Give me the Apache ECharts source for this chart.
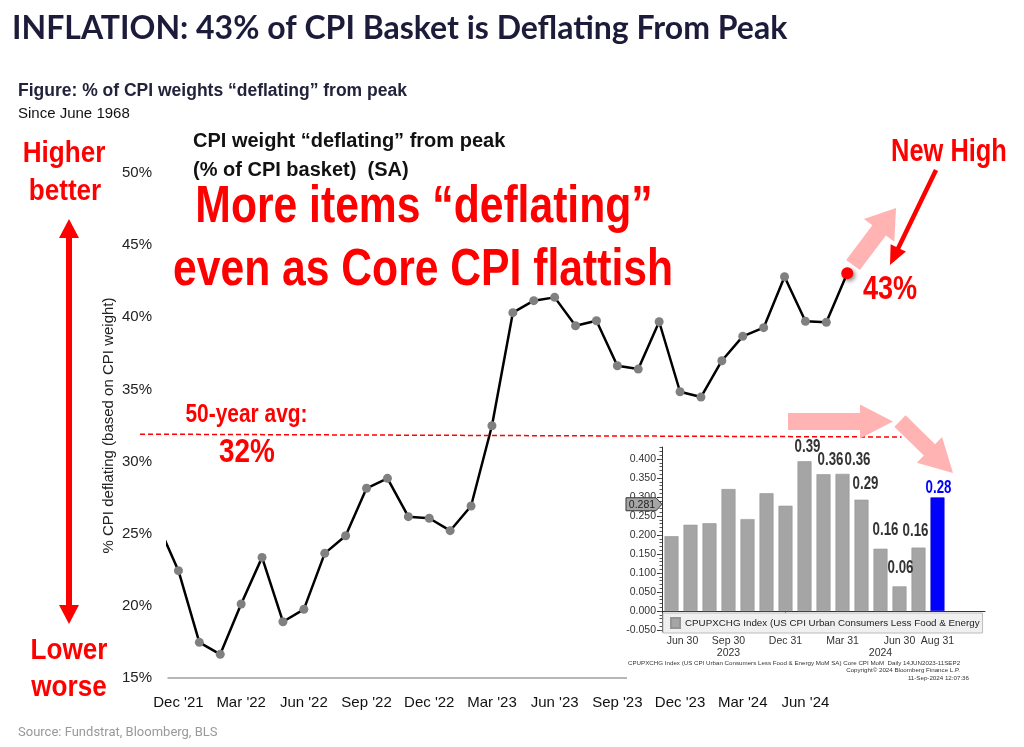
<!DOCTYPE html>
<html><head><meta charset="utf-8">
<script src="https://cdn.jsdelivr.net/npm/echarts@6/dist/echarts.min.js"></script>
<style>html,body{margin:0;padding:0;background:#fff}#c{width:1024px;height:747px}</style>
</head><body><div id="c"></div>
<script>
// ---------- main chart data ----------
const months = ["Nov '21","Dec '21","Jan '22","Feb '22","Mar '22","Apr '22","May '22","Jun '22","Jul '22","Aug '22","Sep '22","Oct '22","Nov '22","Dec '22",
  "Jan '23","Feb '23","Mar '23","Apr '23","May '23","Jun '23","Jul '23","Aug '23","Sep '23","Oct '23","Nov '23","Dec '23",
  "Jan '24","Feb '24","Mar '24","Apr '24","May '24","Jun '24","Jul '24","Aug '24"];
const deflatingShare = [25.7,22.44,17.47,16.64,20.13,23.36,18.90,19.76,23.64,24.86,28.15,28.84,26.18,26.07,
  25.21,26.92,32.48,40.32,41.15,41.38,39.41,39.76,36.64,36.41,39.69,34.84,
  34.47,36.99,38.68,39.28,42.81,39.72,39.65,43.05];
const xTickLabels = ["Dec '21","Mar '22","Jun '22","Sep '22","Dec '22","Mar '23","Jun '23","Sep '23","Dec '23","Mar '24","Jun '24"];
const avgLineX = [-1.84, 34.6];
const avgLineY = [31.9, 31.7];

// ---------- inset (Bloomberg core CPI MoM) ----------
const insetMonths = ['Jun 23','Jul 23','Aug 23','Sep 23','Oct 23','Nov 23','Dec 23','Jan 24','Feb 24','Mar 24','Apr 24','May 24','Jun 24','Jul 24','Aug 24','Sep 24','Oct 24'];
const insetValues = [0.197,0.227,0.231,0.321,0.242,0.310,0.277,0.394,0.360,0.361,0.293,0.164,0.065,0.167,0.299];
const insetBarLabels = ['','','','','','','','0.39','0.36','0.36','0.29','0.16','0.06','0.16','0.28'];
const insetTickLabels = ['Jun 30','','','Sep 30','','','Dec 31','','','Mar 31','','','Jun 30','','Aug 31','',''];
const insetYearLabels = ['','','','2023','','','','','','','','2024','','','','',''];
const insetYTicks = [-0.05,0,0.05,0.1,0.15,0.2,0.25,0.3,0.35,0.4];
const insetLast = 0.281;
const insetName = 'CPUPXCHG Index (US CPI Urban Consumers Less Food & Energy MoM SA)';

const ARIAL = '"Liberation Sans", Arial, sans-serif';
const BBG = '"Liberation Sans", sans-serif';
const RED = '#ff0000';
const PINK = '#ffb3b3';
const NARROW_X = 0.82;

const mainData = deflatingShare.map((v, i) => {
  const x = i - 1;
  if (i === deflatingShare.length - 1) {
    return { value: [x, v], symbolSize: 12, itemStyle: { color: RED, shadowBlur: 4, shadowColor: 'rgba(0,0,0,0.45)', shadowOffsetX: 2, shadowOffsetY: 2 } };
  }
  return [x, v];
});
const xTickValues = xTickLabels.map(l => months.indexOf(l) - 1);

const minorTicks = [];
for (let k = -5; k <= 43; k++) minorTicks.push(+(k / 100).toFixed(2));

const insetData = insetValues.map((v, i) => {
  if (i === insetValues.length - 1) return { value: v, itemStyle: { color: '#0000ff', borderColor: '#0000cc' } };
  return v;
});
const insetLabelData = [];
insetBarLabels.forEach((t, i) => { if (t) insetLabelData.push([i, insetValues[i]]); });
// label placement tweaks (style only): [dx, gap above bar]
const labelPlace = {7:[3,8], 8:[7,8.3], 9:[15,7.7], 10:[4,9.7], 11:[5,12], 12:[1,12], 13:[-3,10.6], 14:[1,3]};
const yearBoundary = insetMonths.indexOf('Dec 23');

function arrow(x1, y1, x2, y2, sw, hw, hl) {
  const dx = x2 - x1, dy = y2 - y1, L = Math.hypot(dx, dy), ux = dx / L, uy = dy / L, px = -uy, py = ux;
  const bx = x2 - ux * hl, by = y2 - uy * hl;
  return [[x1 + px * sw / 2, y1 + py * sw / 2], [bx + px * sw / 2, by + py * sw / 2], [bx + px * hw / 2, by + py * hw / 2], [x2, y2],
          [bx - px * hw / 2, by - py * hw / 2], [bx - px * sw / 2, by - py * sw / 2], [x1 - px * sw / 2, y1 - py * sw / 2]];
}
function dblArrowV(x, y1, y2, sw, hw, hl) {
  return [[x, y1], [x + hw / 2, y1 + hl], [x + sw / 2, y1 + hl], [x + sw / 2, y2 - hl], [x + hw / 2, y2 - hl], [x, y2],
          [x - hw / 2, y2 - hl], [x - sw / 2, y2 - hl], [x - sw / 2, y1 + hl], [x - hw / 2, y1 + hl]];
}
function txt(text, x, y, size, opts) {
  opts = opts || {};
  const st = { text, fontSize: size, fontFamily: opts.family || ARIAL, fontWeight: opts.weight || 'bold', fill: opts.color || RED,
    align: opts.align || 'center', textAlign: opts.align || 'center', verticalAlign: 'middle', textVerticalAlign: 'middle' };
  const el = { type: 'text', x, y, z: 20, style: st };
  if (opts.sx) el.scaleX = opts.sx;
  return el;
}

const chart = echarts.init(document.getElementById('c'), null, { renderer: 'canvas' });
chart.setOption({
  backgroundColor: '#fff',
  animation: false,
  grid: [
    { left: 168, top: 173, width: 710.6, height: 505 },
    { left: 662, top: 447, width: 323, height: 185 }
  ],
  legend: {
    data: [insetName], left: 663, top: 613, icon: 'rect', itemWidth: 9, itemHeight: 10, itemGap: 0,
    padding: [4, 3, 4, 7], backgroundColor: '#f0f0f0', borderColor: '#bcbcbc', borderWidth: 1, selectedMode: false, z: 13,
    textStyle: { fontFamily: BBG, fontSize: 9.8, color: '#222', width: 298, overflow: 'truncate', ellipsis: '' }
  },
  xAxis: [
    { gridIndex: 0, type: 'value', min: -0.5, max: 33.5,
      axisLine: { show: true, lineStyle: { color: '#a0a0a0', width: 1.5 } }, axisTick: { show: false }, splitLine: { show: false },
      axisLabel: { customValues: xTickValues, formatter: v => xTickLabels[xTickValues.indexOf(v)] || '', fontFamily: ARIAL, fontSize: 15, color: '#111', margin: 17 } },
    { gridIndex: 1, type: 'category', data: insetMonths, z: 12,
      axisLine: { lineStyle: { color: '#333', width: 1 } }, axisTick: { show: false },
      axisLabel: { interval: 0, margin: 4, fontFamily: BBG, fontSize: 10.5, color: '#333',
        formatter: (v, i) => i === 0 ? '{a|' + insetTickLabels[i] + '}' : insetTickLabels[i],
        rich: { a: { padding: [0, 0, 0, 22], fontFamily: BBG, fontSize: 10.5, color: '#333' } } } },
    { gridIndex: 1, type: 'category', data: insetMonths, position: 'bottom', offset: 14, z: 12,
      axisLine: { show: false },
      axisTick: { show: true, alignWithLabel: true, length: 10, interval: i => i === yearBoundary, lineStyle: { color: '#444' } },
      axisLabel: { interval: 0, margin: 2, fontFamily: BBG, fontSize: 10.5, color: '#333', formatter: (v, i) => insetYearLabels[i] } }
  ],
  yAxis: [
    { gridIndex: 0, type: 'value', min: 15, max: 50, interval: 5,
      axisLine: { show: false }, axisTick: { show: false }, splitLine: { show: false },
      axisLabel: { formatter: v => v + '%', fontFamily: ARIAL, fontSize: 15, color: '#222', margin: 16 },
      name: '% CPI deflating (based on CPI weight)', nameLocation: 'middle', nameRotate: 90, nameGap: 52, nameMoveOverlap: false,
      nameTextStyle: { fontFamily: ARIAL, fontSize: 15, color: '#222' } },
    { gridIndex: 1, type: 'value', min: -0.055, max: 0.4316, z: 12, position: 'left',
      axisLine: { show: true, lineStyle: { color: '#333', width: 1 } },
      axisTick: { show: true, customValues: insetYTicks, length: 5, lineStyle: { color: '#333' } },
      splitLine: { show: false },
      axisLabel: { customValues: insetYTicks, formatter: v => v.toFixed(3), fontFamily: BBG, fontSize: 10.5, color: '#333', margin: 6 } },
    { gridIndex: 1, type: 'value', min: -0.055, max: 0.4316, z: 12, position: 'left', offset: 0,
      axisLine: { show: false }, splitLine: { show: false }, axisLabel: { show: false },
      axisTick: { show: true, customValues: minorTicks, length: 2.5, lineStyle: { color: '#555' } } }
  ],
  series: [
    { name: 'CPI weight deflating', type: 'line', xAxisIndex: 0, yAxisIndex: 0, data: mainData, z: 3, clip: true,
      symbol: 'circle', symbolSize: 9, showAllSymbol: true,
      lineStyle: { color: '#000', width: 2.5 }, itemStyle: { color: '#808080' } },
    { name: '50-year avg', type: 'custom', xAxisIndex: 0, yAxisIndex: 0, clip: false, z: 4,
      data: [[avgLineX[0], avgLineY[0], avgLineX[1], avgLineY[1]]],
      renderItem: (params, api) => {
        const a = api.coord([api.value(0), api.value(1)]);
        const b = api.coord([api.value(2), api.value(3)]);
        return { type: 'line', shape: { x1: a[0], y1: a[1], x2: b[0], y2: b[1] }, style: { stroke: RED, lineWidth: 1.5, lineDash: [5, 3] } };
      } },
    { name: insetName, type: 'bar', xAxisIndex: 1, yAxisIndex: 1, data: insetData, z: 12, barWidth: 14,
      itemStyle: { color: '#a5a5a5', borderColor: '#959595', borderWidth: 0.6 } },
    { name: 'last price', type: 'custom', xAxisIndex: 1, yAxisIndex: 1, z: 14, clip: false, data: [[0, insetLast]],
      renderItem: (params, api) => {
        const p = api.coord([0, api.value(1)]);
        const x0 = params.coordSys.x, y = p[1];
        return { type: 'group', children: [
          { type: 'polygon', shape: { points: [[x0 - 36, y - 6.5], [x0 - 6, y - 6.5], [x0, y], [x0 - 6, y + 6.5], [x0 - 36, y + 6.5]] },
            style: { fill: '#a6a6a6', stroke: '#333', lineWidth: 1 } },
          { type: 'text', x: x0 - 20, y: y + 0.5, style: { text: api.value(1).toFixed(3), fontFamily: BBG, fontSize: 10.5, fill: '#222', align: 'center', verticalAlign: 'middle' } }
        ] };
      } },
    { name: 'bar labels', type: 'custom', xAxisIndex: 1, yAxisIndex: 1, z: 14, clip: false, data: insetLabelData,
      renderItem: (params, api) => {
        const i = api.value(0);
        const p = api.coord([i, api.value(1)]);
        const pl = labelPlace[i] || [0, 6];
        return { type: 'text', x: p[0] + pl[0], y: p[1] - pl[1] - 6.2, scaleX: 0.76,
          style: { text: insetBarLabels[i], fontFamily: ARIAL, fontWeight: 'bold', fontSize: 17.5,
            fill: i === insetValues.length - 1 ? '#0000ff' : '#333', align: 'center', verticalAlign: 'middle' } };
      } }
  ],
  graphic: [
    { type: 'rect', z: 10, shape: { x: 627, y: 441, width: 373, height: 250 }, style: { fill: '#fff' } },
    txt('INFLATION: 43% of CPI Basket is Deflating From Peak', 12, 28.5, 32, { family: 'Lato, "Open Sans", sans-serif', color: '#1c1b3a', align: 'left' }),
    txt('Figure: % of CPI weights \u201cdeflating\u201d from peak', 18, 91.5, 17.5, { color: '#22223a', align: 'left' }),
    txt('Since June 1968', 18, 114, 15, { color: '#111', align: 'left', weight: 'normal' }),
    txt('CPI weight \u201cdeflating\u201d from peak', 193, 141.5, 20, { color: '#111', align: 'left' }),
    txt('(% of CPI basket)  (SA)', 193, 170.5, 20, { color: '#111', align: 'left' }),
    txt('More items \u201cdeflating\u201d', 424, 207.5, 52, { sx: NARROW_X }),
    txt('even as Core CPI flattish', 423, 271, 52, { sx: NARROW_X }),
    txt('Higher', 64, 153.5, 29, { sx: 0.9 }),
    txt('better', 65, 192, 29, { sx: 0.9 }),
    txt('Lower', 69, 651, 29, { sx: 0.9 }),
    txt('worse', 69, 688, 29, { sx: 0.9 }),
    txt('50-year avg:', 246.5, 414.5, 25.5, { sx: NARROW_X }),
    txt('32%', 247, 452.5, 34, { sx: NARROW_X }),
    txt('New High', 949, 152.5, 31, { sx: NARROW_X }),
    txt('43%', 890, 290, 33, { sx: NARROW_X }),
    { type: 'polygon', z: 20, shape: { points: dblArrowV(69, 219, 624, 6, 20, 19) }, style: { fill: RED } },
    { type: 'polygon', z: 20, shape: { points: arrow(936, 170, 890, 265, 4.5, 17, 19) }, style: { fill: RED } },
    { type: 'polygon', z: 19, shape: { points: arrow(853, 265, 896, 208, 17, 38, 28) }, style: { fill: PINK } },
    { type: 'polygon', z: 19, shape: { points: arrow(788, 421.5, 893, 421.5, 17, 34, 33) }, style: { fill: PINK } },
    { type: 'polygon', z: 19, shape: { points: arrow(900, 421, 953, 473, 16, 36, 33) }, style: { fill: PINK } },
    txt('CPUPXCHG Index (US CPI Urban Consumers Less Food & Energy MoM SA) Core CPI MoM  Daily 14JUN2023-11SEP2', 628, 663, 6.2, { family: BBG, color: '#333', weight: 'normal', align: 'left' }),
    txt('Copyright\u00a9 2024 Bloomberg Finance L.P.', 960, 670.7, 6.2, { family: BBG, color: '#333', weight: 'normal', align: 'right' }),
    txt('11-Sep-2024 12:07:36', 969, 678, 6.2, { family: BBG, color: '#333', weight: 'normal', align: 'right' }),
    txt('Source: Fundstrat, Bloomberg, BLS', 18, 733, 13, { family: 'Roboto, sans-serif', color: '#999', weight: 'normal', align: 'left' })
  ]
});
</script></body></html>
